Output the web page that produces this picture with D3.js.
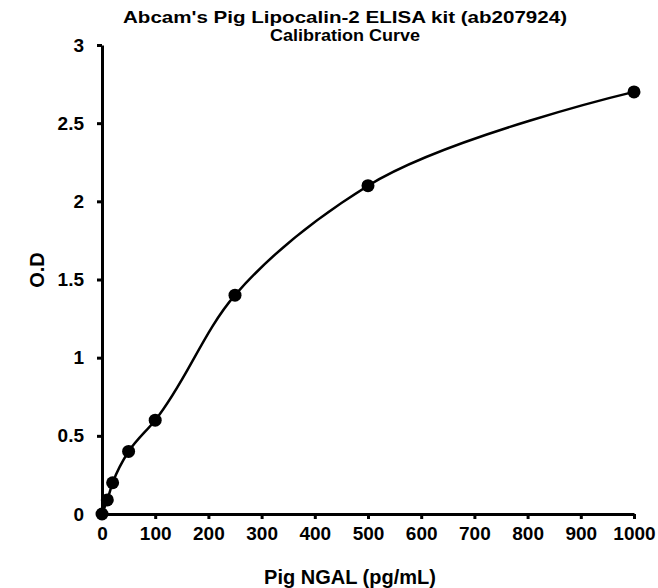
<!DOCTYPE html>
<html>
<head>
<meta charset="utf-8">
<script src="https://cdn.jsdelivr.net/npm/d3@7"></script>
<style>
  body { margin: 0; background: #fff; }
  text { font-family: "Liberation Sans", Arial, sans-serif; font-weight: bold; fill: #000; }
</style>
</head>
<body>
<svg id="vis" width="658" height="588"></svg>
<script>
// standard concentrations (pg/mL) and measured O.D
const conc = [0, 10, 20, 50, 100, 250, 500, 1000];
const od = [0, 0.09, 0.2, 0.4, 0.6, 1.4, 2.1, 2.7];
const xTicks = [0, 100, 200, 300, 400, 500, 600, 700, 800, 900, 1000];
const yTicks = [0, 0.5, 1, 1.5, 2, 2.5, 3];

const svg = d3.select("#vis");
const margin = { top: 45, right: 24, bottom: 74, left: 102 };
const width = +svg.attr("width") - margin.left - margin.right;
const height = +svg.attr("height") - margin.top - margin.bottom;

const data = conc.map((c, i) => ({ x: c, y: od[i] }));

const g = svg.append("g")
  .attr("transform", `translate(${margin.left}, ${margin.top})`);

const x = d3.scaleLinear().domain([0, 1000]).range([0, width]);
const y = d3.scaleLinear().domain([0, 3]).range([height, 0]);

const xAxis = g.append("g")
  .attr("transform", `translate(0, ${height})`)
  .call(d3.axisBottom(x).tickValues(xTicks).tickFormat(d => String(d))
    .tickSize(5).tickSizeOuter(0).tickPadding(8));

const yAxis = g.append("g")
  .call(d3.axisLeft(y).tickValues(yTicks).tickFormat(d => String(d))
    .tickSize(5).tickSizeOuter(0).tickPadding(13));

[xAxis, yAxis].forEach(a => {
  a.attr("font-size", null).attr("font-family", null);
  a.select(".domain").attr("stroke", "#000").attr("stroke-width", 3);
  a.selectAll(".tick line").attr("stroke", "#000").attr("stroke-width", 3);
  a.selectAll(".tick text")
    .style("font-size", "19px")
    .attr("fill", "#000");
});

const line = d3.line()
  .x(d => x(d.x))
  .y(d => y(d.y))
  .curve(d3.curveCatmullRom.alpha(1));

g.append("path")
  .datum(data)
  .attr("fill", "none")
  .attr("stroke", "#000")
  .attr("stroke-width", 2.5)
  .attr("d", line);

g.selectAll("circle")
  .data(data)
  .enter().append("circle")
  .attr("cx", d => x(d.x))
  .attr("cy", d => y(d.y))
  .attr("r", 6.5)
  .attr("fill", "#000");

// title glyphs in the source are wide but short, so stretch to width
svg.append("text")
  .attr("x", 345).attr("y", 23)
  .attr("text-anchor", "middle")
  .attr("textLength", 444)
  .attr("lengthAdjust", "spacingAndGlyphs")
  .style("font-size", "17px")
  .text("Abcam's Pig Lipocalin-2 ELISA kit (ab207924)");

svg.append("text")
  .attr("x", 345).attr("y", 41)
  .attr("text-anchor", "middle")
  .attr("textLength", 150)
  .attr("lengthAdjust", "spacingAndGlyphs")
  .style("font-size", "17px")
  .text("Calibration Curve");

svg.append("text")
  .attr("x", 350).attr("y", 584)
  .attr("text-anchor", "middle")
  .style("font-size", "20px")
  .text("Pig NGAL (pg/mL)");

svg.append("text")
  .attr("transform", "translate(44, 270) rotate(-90)")
  .attr("text-anchor", "middle")
  .style("font-size", "20px")
  .text("O.D");
</script>
</body>
</html>
